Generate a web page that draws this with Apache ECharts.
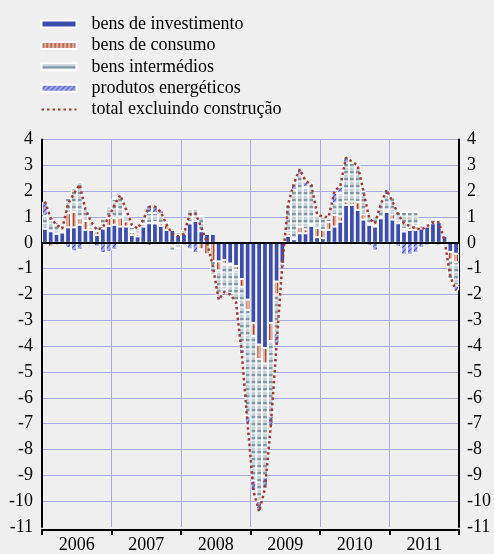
<!DOCTYPE html>
<html>
<head>
<meta charset="utf-8">
<script src="https://cdn.jsdelivr.net/npm/echarts@6/dist/echarts.min.js"></script>
<style>
  html, body { margin: 0; padding: 0; background: #EFEFEF; }
  #chart { width: 494px; height: 554px; }
</style>
</head>
<body>
<div id="chart"></div>
<script>
// Contributions to industrial production growth by main industrial grouping (p.p.), monthly 2006-2011
const years = ['2006', '2007', '2008', '2009', '2010', '2011'];
const monthNames = ['jan', 'fev', 'mar', 'abr', 'mai', 'jun', 'jul', 'ago', 'set', 'out', 'nov', 'dez'];

const investimento = [
  0.55, 0.45, 0.35, 0.40, 0.60, 0.60, 0.70, 0.50, 0.50, 0.30, 0.55, 0.65,
  0.70, 0.63, 0.63, 0.30, 0.25, 0.63, 0.76, 0.75, 0.65, 0.50, 0.50, 0.30,
  0.35, 0.75, 0.85, 0.45, 0.35, 0.35, -0.72, -0.66, -0.80, -0.90, -1.40, -2.20,
  -3.10, -3.94, -4.07, -3.10, -1.50, -0.80, 0.27, 0.14, 0.37, 0.37, 0.66, 0.22,
  0.18, 0.50, 0.63, 0.82, 1.47, 1.47, 1.27, 0.90, 0.70, 0.63, 0.95, 1.20,
  0.90, 0.76, 0.44, 0.50, 0.50, 0.55, 0.63, 0.76, 0.80, 0.27, -0.35, -0.42
];
const consumo = [
  0, -0.15, -0.10, 0.05, 0.55, 0.60, 0.25, 0.35, 0.10, 0.15, 0.10, 0.30,
  0.25, 0.35, 0.20, 0.12, 0.10, 0.10, -0.12, 0.05, 0.10, 0.20, -0.10, 0.10,
  0, 0.05, 0.05, -0.25, -0.45, -0.70, -0.35, -0.15, -0.05, -0.15, -0.30, -0.40,
  -0.50, -0.56, -0.60, -0.70, -0.50, 0, 0.10, 0.05, 0.25, 0.15, 0.05, 0.35,
  0.32, 0.30, 0.45, 0.20, 0.13, 0.13, 0.30, 0.20, 0.05, 0.05, 0.05, 0.05,
  0.20, 0.10, 0.10, 0.10, 0.15, 0.12, 0.05, -0.08, -0.10, -0.05, -0.30, -0.33
];
const intermedios = [
  0.50, 0.40, 0.35, 0.10, 0.60, 0.95, 1.40, 0.50, 0.20, 0.15, 0.30, 0.45,
  0.75, 0.87, 0.25, 0.20, 0.22, 0.20, 0.40, 0.35, 0.35, 0.10, -0.20, -0.20,
  0.15, 0.50, 0.45, 0.60, 0, -0.55, -1.05, -1.00, -1.10, -1.20, -2.40, -4.10,
  -5.60, -5.50, -4.40, -2.90, -1.50, 0, 1.10, 1.85, 2.00, 1.65, 1.60, 0.50,
  0.52, 0.15, 0.45, 0.90, 1.50, 1.50, 1.40, 0.90, 0.30, 0.35, 0.60, 0.60,
  0.70, 0.34, 0.66, 0.60, 0.55, 0.15, 0.10, 0.14, 0.10, -0.10, -0.75, -0.90
];
const energeticos = [
  0.55, 0.15, 0.10, 0, -0.20, -0.33, -0.27, -0.05, 0, -0.15, -0.40, -0.35,
  -0.27, -0.08, 0, 0, 0, -0.05, 0.31, 0.27, 0.17, -0.05, 0, 0,
  -0.10, -0.25, -0.40, 0, 0, 0, -0.05, -0.10, 0, -0.05, -0.20, -0.30,
  -0.40, -0.37, -0.45, -0.40, -0.45, -0.15, 0.05, 0.25, 0.22, 0.20, -0.08, -0.05,
  0, 0.05, 0.40, 0.25, 0.22, 0, 0, 0.10, -0.12, -0.30, -0.05, 0.20,
  -0.05, -0.15, -0.46, -0.46, -0.40, -0.20, -0.10, -0.05, 0, 0, -0.05, -0.20
];
const totalExclConstrucao = [
  1.60, 0.95, 0.70, 0.55, 1.50, 1.90, 2.25, 1.30, 0.80, 0.50, 0.60, 1.00,
  1.45, 1.85, 1.30, 0.70, 0.55, 0.90, 1.40, 1.40, 1.20, 0.70, 0.35, 0.25,
  0.35, 1.10, 1.15, 0.60, 0.00, -0.90, -2.20, -1.90, -2.00, -2.30, -4.30, -7.00,
  -9.60, -10.40, -9.50, -7.10, -3.95, -0.80, 1.50, 2.30, 2.85, 2.40, 2.25, 1.10,
  1.00, 1.00, 2.00, 2.20, 3.30, 3.15, 3.00, 2.00, 0.95, 0.75, 1.50, 2.05,
  1.60, 1.10, 0.75, 0.65, 0.57, 0.50, 0.65, 0.78, 0.80, 0.10, -1.30, -1.85
];

const months = [];
years.forEach(y => monthNames.forEach(m => months.push(m + ' ' + y)));

// Fill patterns for the stacked segments
function tile(w, h, paint) {
  const c = document.createElement('canvas');
  c.width = w; c.height = h;
  paint(c.getContext('2d'));
  return { image: c, repeat: 'repeat' };
}
const fillInvest = '#3D4DAD';
const fillConsumo = tile(4, 4, g => {
  g.fillStyle = '#DDB0A0'; g.fillRect(0, 0, 4, 4);
  g.fillStyle = '#B14A3B'; g.fillRect(1, 0, 1.3, 4);
});
const fillInter = tile(4, 7, g => {
  g.fillStyle = '#C5D1D8'; g.fillRect(0, 0, 4, 7);
  g.fillStyle = '#8098A8'; g.fillRect(0, 3, 4, 2);
  g.fillStyle = '#E4EAEE'; g.fillRect(0, 6, 4, 1);
});
const fillEnerg = tile(5, 5, g => {
  g.fillStyle = '#A3A8EA'; g.fillRect(0, 0, 5, 5);
  g.strokeStyle = '#4756BE'; g.lineWidth = 1.2;
  g.beginPath();
  g.moveTo(0, 5); g.lineTo(5, 0);
  g.moveTo(-2.5, 2.5); g.lineTo(2.5, -2.5);
  g.moveTo(2.5, 7.5); g.lineTo(7.5, 2.5);
  g.stroke();
});

const serif = 'Liberation Serif';
const gridColor = '#A8A8E6';
const yGridColors = [];
for (let v = -11; v <= 4; v++) yGridColors.push(v === -11 ? 'rgba(0,0,0,0)' : gridColor);

function barSeries(name, data, fill) {
  return {
    name, type: 'bar', stack: 'contrib', data,
    xAxisIndex: 0, yAxisIndex: 0,
    barCategoryGap: '0%',
    itemStyle: { color: fill, borderColor: '#FFFFFF', borderWidth: 1 },
    emphasis: { disabled: true },
    animation: false
  };
}

const chart = echarts.init(document.getElementById('chart'), null, { renderer: 'canvas' });
chart.setOption({
  backgroundColor: '#EFEFEF',
  animation: false,
  legend: {
    orient: 'vertical', left: 40.5, top: 15, padding: 0,
    itemWidth: 35, itemHeight: 7, itemGap: 3.4,
    textStyle: { fontFamily: serif, fontSize: 18, color: '#000', lineHeight: 18, padding: [0, 0, 0, 10] },
    data: [
      { name: 'bens de investimento', icon: 'rect' },
      { name: 'bens de consumo', icon: 'rect' },
      { name: 'bens intermédios', icon: 'rect' },
      { name: 'produtos energéticos', icon: 'rect' },
      { name: 'total excluindo construção', itemStyle: { opacity: 0 } }
    ],
    selectedMode: false
  },
  grid: { left: 42, right: 33, top: 139.5, bottom: 26.3 },
  xAxis: [
    {
      type: 'category', data: months, boundaryGap: true, z: 10,
      axisLine: { onZero: true, lineStyle: { color: '#000', width: 2 } },
      axisTick: { show: false }, axisLabel: { show: false }, splitLine: { show: false }
    },
    {
      type: 'category', data: years, position: 'bottom', offset: 3, boundaryGap: true,
      axisLine: { onZero: false, lineStyle: { color: '#000', width: 2 } },
      axisTick: { show: true, length: 5, lineStyle: { color: '#000', width: 2 } },
      axisLabel: { fontFamily: serif, fontSize: 18, color: '#000', margin: 6 },
      splitLine: { show: true, lineStyle: { color: gridColor, width: 1 } }
    }
  ],
  yAxis: [
    {
      type: 'value', position: 'left', min: -11, max: 4, interval: 1,
      axisLine: { show: true, lineStyle: { color: '#000', width: 2 } },
      axisTick: { show: false },
      axisLabel: { fontFamily: serif, fontSize: 18, color: '#000', margin: 9 },
      splitLine: { show: true, lineStyle: { color: yGridColors, width: 1 } }
    },
    {
      type: 'value', position: 'right', min: -11, max: 4, interval: 1,
      axisLine: { show: true, lineStyle: { color: '#000', width: 2 } },
      axisTick: { show: false },
      axisLabel: { fontFamily: serif, fontSize: 18, color: '#000', margin: 8 },
      splitLine: { show: false }
    }
  ],
  series: [
    barSeries('bens de investimento', investimento, fillInvest),
    barSeries('bens de consumo', consumo, fillConsumo),
    barSeries('bens intermédios', intermedios, fillInter),
    barSeries('produtos energéticos', energeticos, fillEnerg),
    {
      name: 'total excluindo construção', type: 'line', data: totalExclConstrucao,
      xAxisIndex: 0, yAxisIndex: 0, z: 5,
      symbol: 'none', smooth: false,
      lineStyle: { color: '#A63A2E', width: 2.5, type: [2.5, 3], cap: 'butt' },
      itemStyle: { color: '#A63A2E' },
      emphasis: { disabled: true },
      animation: false
    }
  ]
});
</script>
</body>
</html>
